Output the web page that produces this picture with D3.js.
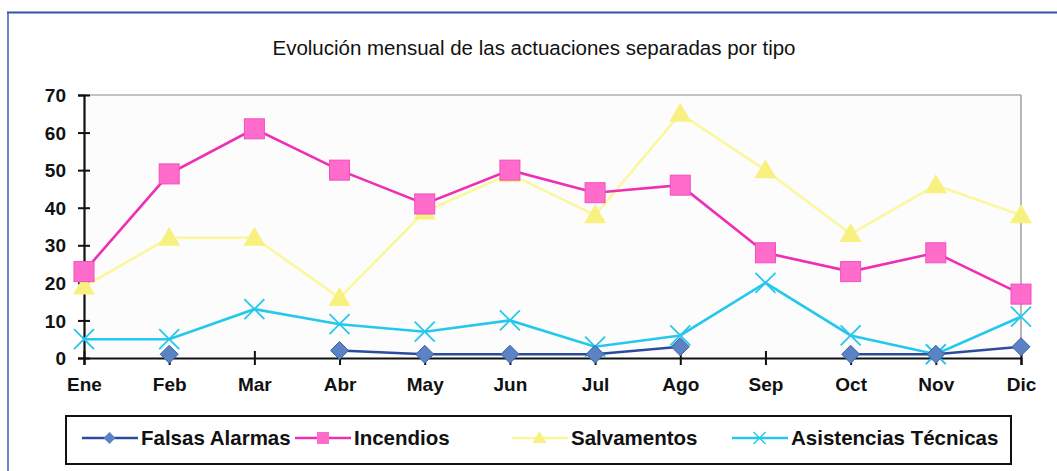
<!DOCTYPE html>
<html>
<head>
<meta charset="utf-8">
<script src="https://cdn.jsdelivr.net/npm/d3@7"></script>
<style>
  body { margin: 0; background: #fff; }
  text { font-family: "Liberation Sans", Arial, sans-serif; }
</style>
</head>
<body>
<div id="chart"></div>
<script>
let width = 1057;
let height = 471;
let margin = { top: 95, right: 36, bottom: 113, left: 84 };

const months = ["Ene", "Feb", "Mar", "Abr", "May", "Jun", "Jul", "Ago", "Sep", "Oct", "Nov", "Dic"];
const yTicks = [0, 10, 20, 30, 40, 50, 60, 70];
const falsasAlarmas = [null, 1, null, 2, 1, 1, 1, 3, null, 1, 1, 3];
const incendios = [23, 49, 61, 50, 41, 50, 44, 46, 28, 23, 28, 17];
const salvamentos = [19, 32, 32, 16, 39, 49, 38, 65, 50, 33, 46, 38];
const asistencias = [5, 5, 13, 9, 7, 10, 3, 6, 20, 6, 1, 11];

const series = [
  { name: "Falsas Alarmas", values: falsasAlarmas, line: "#2b4c9e", fill: "#5b82c2", stroke: "#3d63a8", marker: "diamond" },
  { name: "Incendios", values: incendios, line: "#ee2fb4", fill: "#ff6ccb", stroke: "#f24fbf", marker: "square" },
  { name: "Salvamentos", values: salvamentos, line: "#fbf79c", fill: "#f8f07f", stroke: "#f8f07f", marker: "triangle" },
  { name: "Asistencias Técnicas", values: asistencias, line: "#25c8ec", fill: "none", stroke: "#25c8ec", marker: "cross" }
];

const svg = d3
  .select("#chart")
  .append("svg")
  .attr("width", width)
  .attr("height", height);

// outer frame (blue, top + left only visible)
svg.append("line")
  .attr("x1", 7).attr("x2", width).attr("y1", 12.5).attr("y2", 12.5)
  .attr("stroke", "#2f55a8").attr("stroke-width", 2);
svg.append("line")
  .attr("x1", 8).attr("x2", 8).attr("y1", 12).attr("y2", height)
  .attr("stroke", "#3a5fb0").attr("stroke-width", 1.5);

svg.append("text")
  .attr("x", 534)
  .attr("y", 55)
  .attr("text-anchor", "middle")
  .attr("font-size", 20.5)
  .attr("fill", "#111")
  .text("Evolución mensual de las actuaciones separadas por tipo");

const xScale = d3
  .scalePoint()
  .domain(months)
  .range([margin.left, width - margin.right]);

const yScale = d3
  .scaleLinear()
  .domain([0, 70])
  .range([height - margin.bottom, margin.top]);

// plot background
svg.append("rect")
  .attr("x", margin.left)
  .attr("y", margin.top)
  .attr("width", width - margin.right - margin.left)
  .attr("height", height - margin.bottom - margin.top)
  .attr("fill", "#fcfcfc");

svg.append("line")
  .attr("x1", margin.left).attr("x2", width - margin.right)
  .attr("y1", margin.top).attr("y2", margin.top)
  .attr("stroke", "#888").attr("stroke-width", 1.2);
svg.append("line")
  .attr("x1", width - margin.right).attr("x2", width - margin.right)
  .attr("y1", margin.top).attr("y2", height - margin.bottom)
  .attr("stroke", "#888").attr("stroke-width", 1.2);

// axes
const yAxis = svg
  .append("g")
  .attr("transform", `translate(${margin.left},0)`)
  .call(d3.axisLeft(yScale).tickValues(yTicks).tickSize(6).tickPadding(12));

const xAxis = svg
  .append("g")
  .attr("transform", `translate(0,${height - margin.bottom})`)
  .call(d3.axisBottom(xScale).tickSize(7).tickPadding(13));

[xAxis, yAxis].forEach((g) => {
  g.select(".domain").attr("stroke", "#111").attr("stroke-width", 2.2);
  g.selectAll(".tick line").attr("stroke", "#111").attr("stroke-width", 2);
  g.selectAll(".tick text")
    .attr("font-size", 19)
    .attr("font-weight", "bold")
    .attr("fill", "#111")
    .style("font-family", "'Liberation Sans', Arial, sans-serif");
});
yAxis.selectAll(".tick line").attr("x1", 6);
xAxis.selectAll(".tick line").attr("y1", -7);
yAxis.selectAll(".tick text").attr("dy", "0.35em");

function drawMarker(g, type, cx, cy, s) {
  if (type === "diamond") {
    g.append("path")
      .attr("d", `M${cx},${cy - 9}L${cx + 9},${cy}L${cx},${cy + 9}L${cx - 9},${cy}Z`)
      .attr("fill", s.fill).attr("stroke", s.stroke).attr("stroke-width", 1);
  } else if (type === "square") {
    g.append("rect")
      .attr("x", cx - 10).attr("y", cy - 10).attr("width", 20).attr("height", 20)
      .attr("fill", s.fill).attr("stroke", s.stroke).attr("stroke-width", 1);
  } else if (type === "triangle") {
    g.append("path")
      .attr("d", `M${cx},${cy - 11}L${cx + 11},${cy + 8}L${cx - 11},${cy + 8}Z`)
      .attr("fill", s.fill);
  } else if (type === "cross") {
    g.append("path")
      .attr("d", `M${cx - 10},${cy - 10}L${cx + 10},${cy + 10}M${cx - 10},${cy + 10}L${cx + 10},${cy - 10}`)
      .attr("stroke", s.stroke).attr("stroke-width", 1.8);
  }
}

// series are drawn so that Falsas Alarmas ends up on top
const drawOrder = [2, 1, 3, 0];
drawOrder.forEach((si) => {
  const s = series[si];
  const pts = months.map((m, i) => ({ m: m, v: s.values[i] }));
  const line = d3
    .line()
    .defined((d) => d.v !== null)
    .x((d) => xScale(d.m))
    .y((d) => yScale(d.v));

  svg.append("path")
    .datum(pts)
    .attr("fill", "none")
    .attr("stroke", s.line)
    .attr("stroke-width", 2.6)
    .attr("d", line);

  const mg = svg.append("g");
  pts.filter((d) => d.v !== null).forEach((d) => {
    drawMarker(mg, s.marker, xScale(d.m), yScale(d.v), s);
  });
});

// legend
svg.append("rect")
  .attr("x", 66).attr("y", 416)
  .attr("width", 945).attr("height", 48)
  .attr("fill", "#fff")
  .attr("stroke", "#111").attr("stroke-width", 2);

const legendX = [82, 295, 512, 732];
series.forEach((s, i) => {
  const g = svg.append("g").attr("transform", `translate(${legendX[i]},438)`);
  g.append("line")
    .attr("x1", 0).attr("x2", 56)
    .attr("stroke", s.line).attr("stroke-width", 2.6);
  if (s.marker === "diamond") {
    g.append("path").attr("d", "M27.5,-6L33.5,0L27.5,6L21.5,0Z").attr("fill", s.fill);
  } else if (s.marker === "square") {
    g.append("rect").attr("x", 22).attr("y", -6).attr("width", 12).attr("height", 12).attr("fill", s.fill);
  } else if (s.marker === "triangle") {
    g.append("path").attr("d", "M27.5,-7L34.5,5L20.5,5Z").attr("fill", s.fill);
  } else {
    g.append("path").attr("d", "M21.5,-6L33.5,6M21.5,6L33.5,-6")
      .attr("stroke", s.stroke).attr("stroke-width", 1.5);
  }
  g.append("text")
    .attr("x", 59)
    .attr("y", 0)
    .attr("dy", "0.35em")
    .attr("font-size", 20.5)
    .attr("font-weight", "bold")
    .attr("fill", "#111")
    .text(s.name);
});
</script>
</body>
</html>
